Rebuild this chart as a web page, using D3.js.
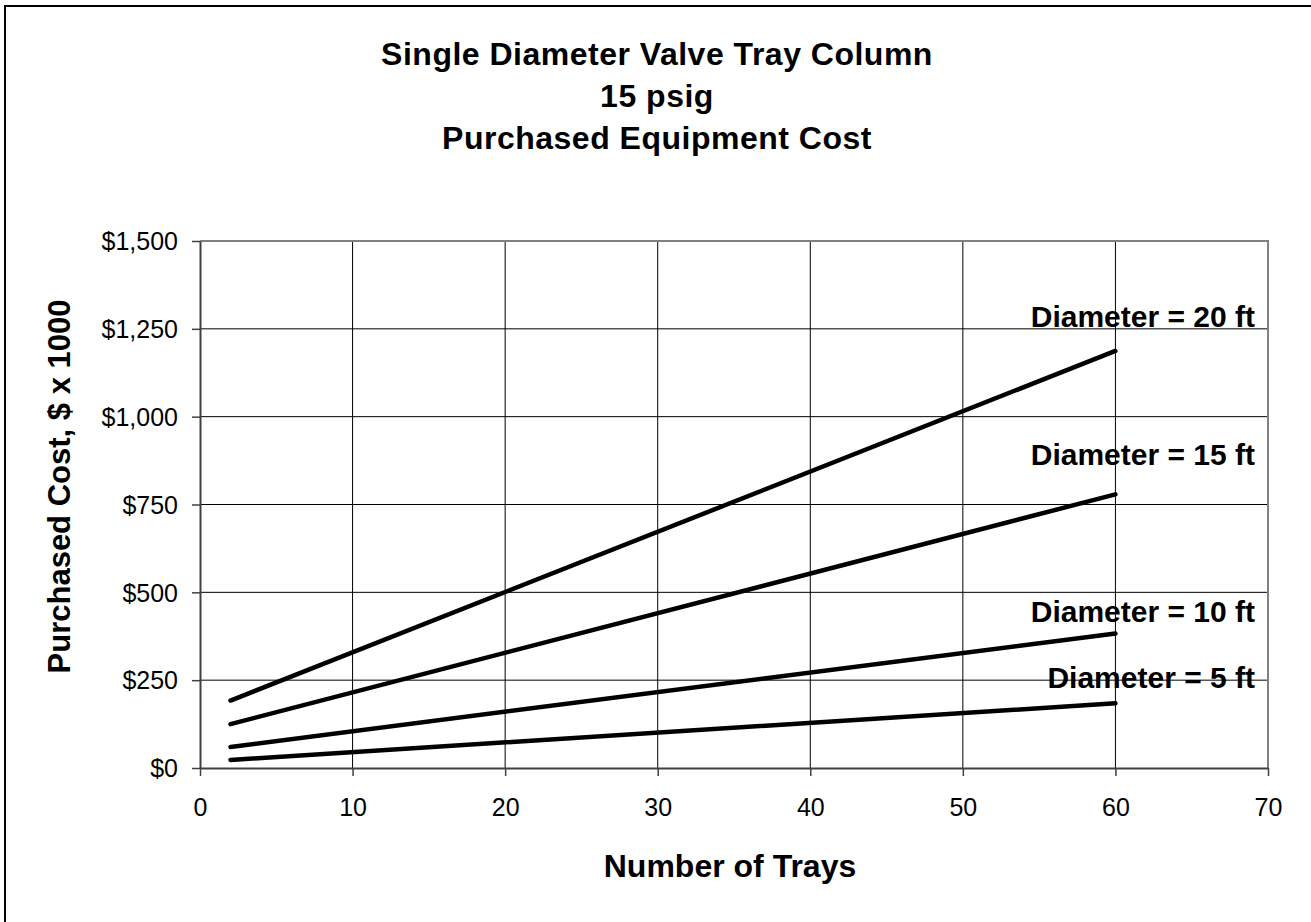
<!DOCTYPE html>
<html>
<head>
<meta charset="utf-8">
<script src="https://cdn.jsdelivr.net/npm/d3@7"></script>
<style>
  body { margin: 0; background: #fff; }
  svg text { font-family: "Liberation Sans", Arial, sans-serif; fill: #000; }
</style>
</head>
<body>
<svg id="chart" width="1311" height="922"></svg>
<script>
// chart data
var trays = [2, 60];
var diameters = ["Diameter = 20 ft", "Diameter = 15 ft", "Diameter = 10 ft", "Diameter = 5 ft"];
var cost20 = [192, 1187];
var cost15 = [125, 779];
var cost10 = [60, 383];
var cost5 = [23, 184];
var xTicks = [0, 10, 20, 30, 40, 50, 60, 70];
var yTicks = [0, 250, 500, 750, 1000, 1250, 1500];
var titleLines = ["Single Diameter Valve Tray Column", "15 psig", "Purchased Equipment Cost"];

var series = [cost20, cost15, cost10, cost5];
var labelY = [327, 465, 622, 688];

var svg = d3.select("#chart");

// outer chart frame (right/bottom edges fall off the page)
svg.append("rect")
  .attr("x", 5).attr("y", 6)
  .attr("width", 1320).attr("height", 930)
  .attr("fill", "#fff")
  .attr("stroke", "#000")
  .attr("stroke-width", 2);

var plotLeft = 200, plotRight = 1268, plotTop = 241, plotBottom = 768;

var x = d3.scaleLinear().domain([0, 70]).range([plotLeft, plotRight]);
var y = d3.scaleLinear().domain([0, 1500]).range([plotBottom, plotTop]);

/* grid */
var grid = svg.append("g").attr("class", "grid");
grid.selectAll("line.v")
  .data(xTicks.slice(1, -1))
  .enter().append("line")
  .attr("x1", function(d) { return x(d); })
  .attr("x2", function(d) { return x(d); })
  .attr("y1", plotTop).attr("y2", plotBottom)
  .attr("stroke", "#000").attr("stroke-width", 1);
grid.selectAll("line.h")
  .data(yTicks.slice(1, -1))
  .enter().append("line")
  .attr("x1", plotLeft).attr("x2", plotRight)
  .attr("y1", function(d) { return y(d); })
  .attr("y2", function(d) { return y(d); })
  .attr("stroke", "#000").attr("stroke-width", 1);

// grey top and right border of the plot area
svg.append("path")
  .attr("d", "M" + plotLeft + "," + plotTop + "H" + plotRight + "V" + plotBottom)
  .attr("fill", "none")
  .attr("stroke", "#808080")
  .attr("stroke-width", 2);

/* axes */
var xAxis = d3.axisBottom(x).tickValues(xTicks).tickSize(8).tickSizeOuter(0);
var yAxis = d3.axisLeft(y).tickValues(yTicks).tickSize(8).tickSizeOuter(0)
  .tickFormat(function(d) { return "$" + d3.format(",")(d); });

var gx = svg.append("g")
  .attr("transform", "translate(0," + plotBottom + ")")
  .call(xAxis);
var gy = svg.append("g")
  .attr("transform", "translate(" + plotLeft + ",0)")
  .call(yAxis);

[gx, gy].forEach(function(g) {
  g.select(".domain").attr("stroke", "#404040").attr("stroke-width", 2);
  g.selectAll(".tick line").attr("stroke", "#404040").attr("stroke-width", 1.5);
  g.selectAll(".tick text")
    .attr("font-family", "Liberation Sans, Arial, sans-serif")
    .attr("font-size", 25)
    .attr("fill", "#000");
});
gx.selectAll(".tick text").attr("dy", null).attr("y", 48);
gy.selectAll(".tick text").attr("x", -22).attr("dy", "0.35em");

/* lines */
var line = d3.line()
  .x(function(d, i) { return x(trays[i]); })
  .y(function(d) { return y(d); });

svg.append("g").selectAll("path")
  .data(series)
  .enter().append("path")
  .attr("d", function(d) { return line(d); })
  .attr("fill", "none")
  .attr("stroke", "#000")
  .attr("stroke-width", 4.5)
  .attr("stroke-linecap", "round");

svg.append("g").selectAll("text")
  .data(diameters)
  .enter().append("text")
  .attr("x", 1255)
  .attr("y", function(d, i) { return labelY[i]; })
  .attr("text-anchor", "end")
  .attr("font-size", 30)
  .attr("font-weight", "bold")
  .text(function(d) { return d; });

/* titles */
svg.append("g").selectAll("text")
  .data(titleLines)
  .enter().append("text")
  .attr("x", 657)
  .attr("y", function(d, i) { return 65 + i * 42; })
  .attr("text-anchor", "middle")
  .attr("font-size", 32)
  .attr("letter-spacing", 0.5)
  .attr("font-weight", "bold")
  .text(function(d) { return d; });

svg.append("text")
  .attr("x", (plotLeft + plotRight) / 2 - 4)
  .attr("y", 877)
  .attr("text-anchor", "middle")
  .attr("font-size", 32)
  .attr("font-weight", "bold")
  .text("Number of Trays");

svg.append("text")
  .attr("transform", "translate(70," + ((plotTop + plotBottom) / 2 - 18) + ") rotate(-90)")
  .attr("text-anchor", "middle")
  .attr("font-size", 31)
  .attr("font-weight", "bold")
  .text("Purchased Cost, $ x 1000");
</script>
</body>
</html>
